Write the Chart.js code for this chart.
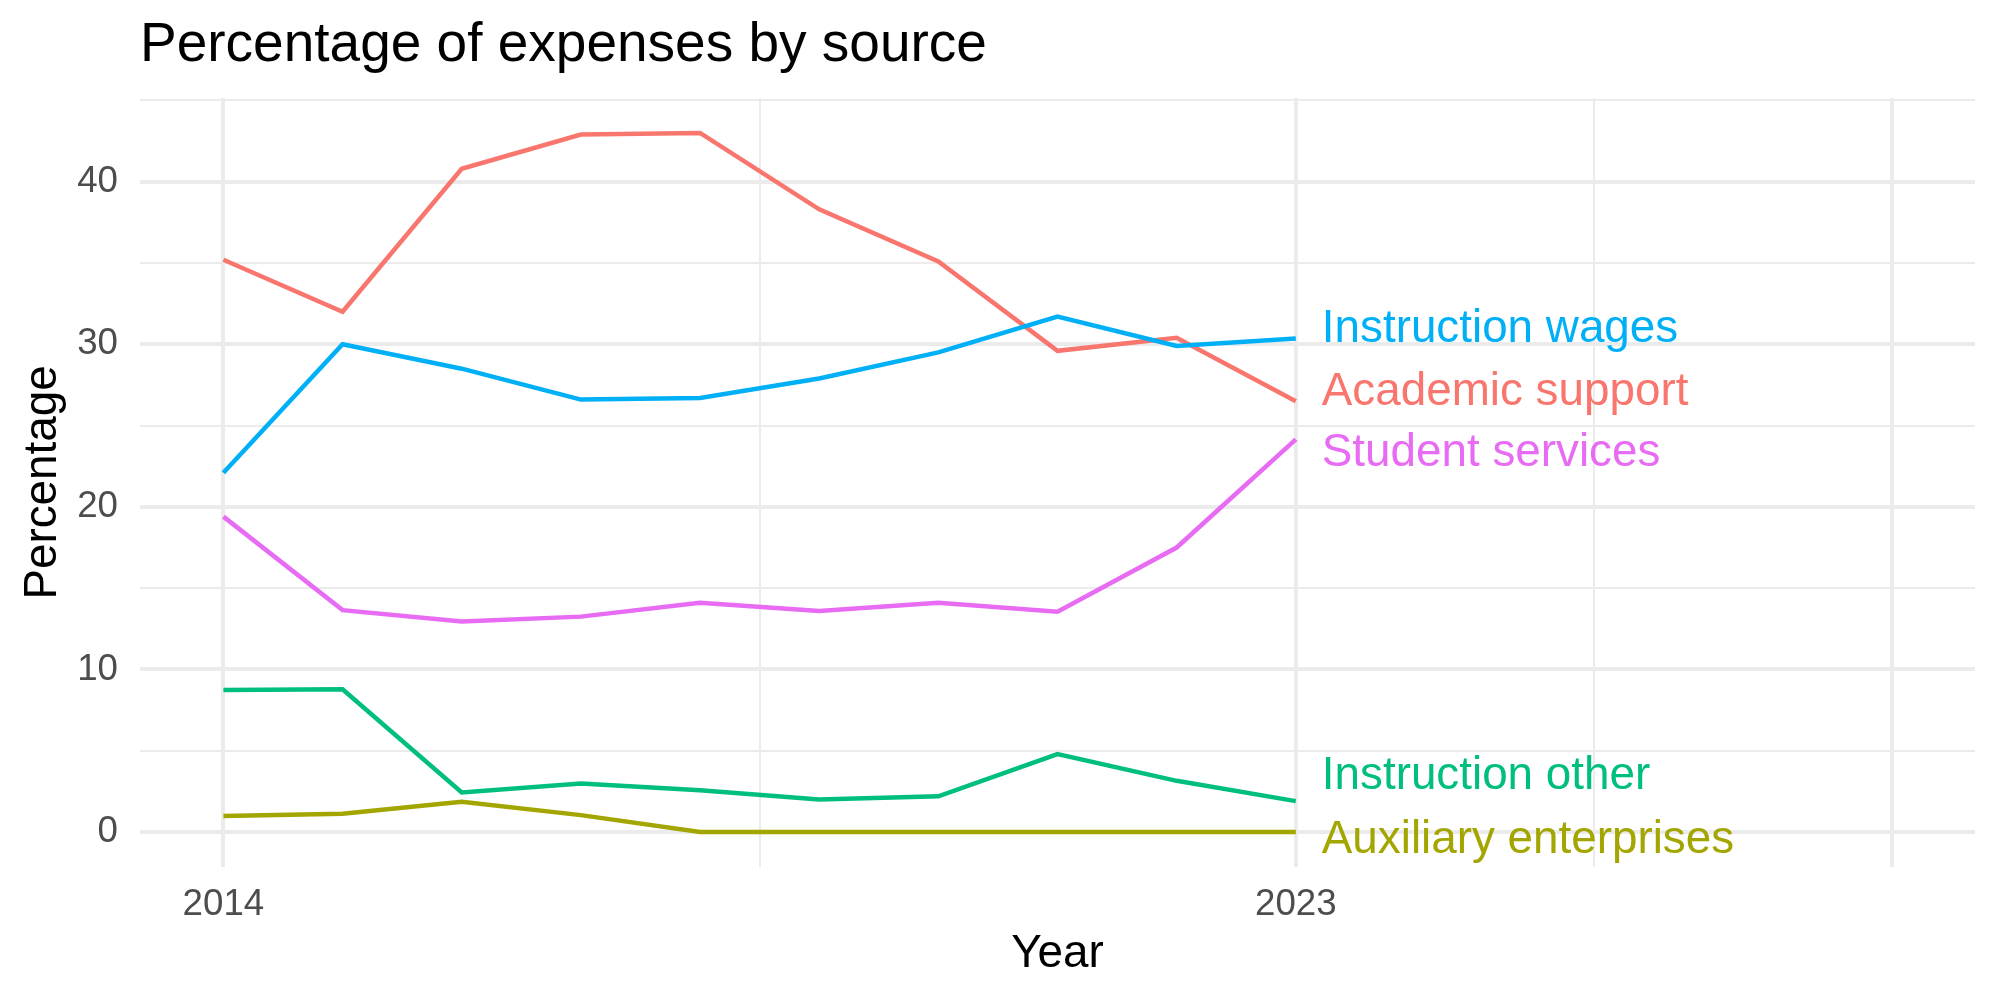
<!DOCTYPE html>
<html>
<head>
<meta charset="utf-8">
<script src="https://cdn.jsdelivr.net/npm/chart.js@4.4.1/dist/chart.umd.min.js"></script>
<style>
  html, body { margin: 0; padding: 0; background: #ffffff; }
  #wrap { width: 2000px; height: 1000px; }
</style>
</head>
<body>
<div id="wrap"><canvas id="expensesChart" width="2000" height="1000"></canvas></div>
<script>
var years = [2014, 2015, 2016, 2017, 2018, 2019, 2020, 2021, 2022, 2023];

var academicSupport      = [35.2, 32.0, 40.8, 42.9, 43.0, 38.3, 35.1, 29.6, 30.4, 26.5];
var auxiliaryEnterprises = [0.98, 1.13, 1.86, 1.04, 0.0, 0.0, 0.0, 0.0, 0.0, 0.0];
var instructionOther     = [8.73, 8.78, 2.43, 2.99, 2.57, 2.0, 2.2, 4.8, 3.15, 1.9];
var instructionWages     = [22.1, 30.0, 28.5, 26.6, 26.7, 27.9, 29.5, 31.7, 29.9, 30.35];
var studentServices      = [19.4, 13.65, 12.95, 13.25, 14.1, 13.6, 14.1, 13.55, 17.5, 24.15];

var seriesNames = ['Academic support', 'Auxiliary enterprises', 'Instruction other',
    'Instruction wages', 'Student services'];
var seriesColors = ['#F8766D', '#A3A500', '#00BF7D', '#00B0F6', '#E76BF3'];
// where the end labels sit (data units, after repelling)
var labelYs = [27.3, -0.26, 3.67, 31.17, 23.5];

var xTicks = [2014, 2018.5, 2023, 2025.5, 2028];
var xLabelled = [2014, 2023];
var yTicks = [0, 5, 10, 15, 20, 25, 30, 35, 40, 45];
var yLabelled = [0, 10, 20, 30, 40];

var FONT = '"Liberation Sans", Arial, Helvetica, sans-serif';
var GRID = '#EBEBEB';

function make_datasets() {
    'use strict';
    var values = [academicSupport, auxiliaryEnterprises, instructionOther,
        instructionWages, studentServices];
    var sets = [];
    for (var i = 0; i < values.length; i++) {
        sets.push({
            label: seriesNames[i],
            data: years.map(function (y, j) { return {x: y, y: values[i][j]}; }),
            borderColor: seriesColors[i],
            backgroundColor: seriesColors[i],
            borderWidth: 4.5,
            pointRadius: 0,
            tension: 0,
            order: values.length - i
        });
    }
    return sets;
}

// titles and the labels at the line ends
var textPlugin = {
    id: 'textPlugin',
    afterDraw: function (chart) {
        var ctx = chart.ctx;
        var xs = chart.scales.x, ys = chart.scales.y;
        var area = chart.chartArea;
        ctx.save();
        ctx.fillStyle = '#000000';
        ctx.textBaseline = 'alphabetic';

        ctx.font = '55px ' + FONT;
        ctx.textAlign = 'left';
        ctx.fillText('Percentage of expenses by source', 140, 61);

        ctx.font = '45.8px ' + FONT;
        ctx.textAlign = 'center';
        ctx.fillText('Year', (area.left + area.right) / 2, 967);

        ctx.save();
        ctx.translate(56, (area.top + area.bottom) / 2);
        ctx.rotate(-Math.PI / 2);
        ctx.fillText('Percentage', 0, 0);
        ctx.restore();

        ctx.font = '45.8px ' + FONT;
        ctx.textAlign = 'left';
        var lx = xs.getPixelForValue(years[years.length - 1]) + 26;
        for (var i = 0; i < seriesNames.length; i++) {
            ctx.fillStyle = seriesColors[i];
            ctx.fillText(seriesNames[i], lx, ys.getPixelForValue(labelYs[i]) + 16.5);
        }
        ctx.restore();
    }
};

function plot_expenses() {
    'use strict';
    var ctx = document.getElementById('expensesChart');
    return new Chart(ctx, {
        type: 'line',
        data: {datasets: make_datasets()},
        plugins: [textPlugin],
        options: {
            responsive: false,
            animation: false,
            layout: {padding: {top: 98, right: 25, left: 0, bottom: 0}},
            plugins: {
                legend: {display: false},
                tooltip: {enabled: false},
                title: {display: false}
            },
            scales: {
                x: {
                    type: 'linear',
                    min: 2013.3,
                    max: 2028.7,
                    afterBuildTicks: function (scale) {
                        scale.ticks = xTicks.map(function (v) { return {value: v}; });
                    },
                    afterFit: function (scale) { scale.height = 133; },
                    border: {display: false},
                    grid: {
                        color: GRID,
                        drawTicks: false,
                        lineWidth: function (c) {
                            return xLabelled.indexOf(c.tick.value) >= 0 || c.tick.value === 2028 ? 4 : 2;
                        }
                    },
                    ticks: {
                        autoSkip: false,
                        maxRotation: 0,
                        padding: 16,
                        color: '#4D4D4D',
                        font: {family: FONT, size: 36.7, lineHeight: 1.2},
                        callback: function (v) {
                            return xLabelled.indexOf(v) >= 0 ? String(v) : '';
                        }
                    }
                },
                y: {
                    type: 'linear',
                    min: -2.15,
                    max: 45.15,
                    afterBuildTicks: function (scale) {
                        scale.ticks = yTicks.map(function (v) { return {value: v}; });
                    },
                    afterFit: function (scale) { scale.width = 140; },
                    border: {display: false},
                    grid: {
                        color: GRID,
                        drawTicks: false,
                        lineWidth: function (c) {
                            return yLabelled.indexOf(c.tick.value) >= 0 ? 4 : 2;
                        }
                    },
                    ticks: {
                        autoSkip: false,
                        padding: 22,
                        color: '#4D4D4D',
                        font: {family: FONT, size: 36.7, lineHeight: 1.2},
                        callback: function (v) {
                            return yLabelled.indexOf(v) >= 0 ? String(v) : '';
                        }
                    }
                }
            }
        }
    });
}

plot_expenses();
</script>
</body>
</html>
